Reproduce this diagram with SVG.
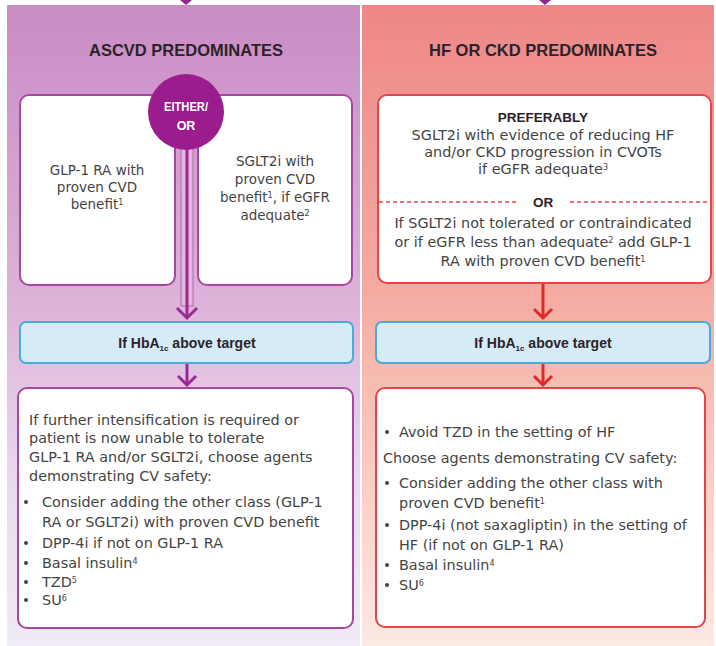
<svg xmlns="http://www.w3.org/2000/svg" width="716" height="646" viewBox="0 0 716 646">
<defs>
<linearGradient id="gL" x1="0" y1="0" x2="0" y2="1">
<stop offset="0" stop-color="#c98cc5"/>
<stop offset="0.45" stop-color="#dcb1d8"/>
<stop offset="0.75" stop-color="#eadaee"/>
<stop offset="1" stop-color="#f0ebf4"/>
</linearGradient>
<linearGradient id="gR" x1="0" y1="0" x2="0" y2="1">
<stop offset="0" stop-color="#ee8788"/>
<stop offset="0.45" stop-color="#f4aba2"/>
<stop offset="0.75" stop-color="#f9cfc4"/>
<stop offset="1" stop-color="#fce9e3"/>
</linearGradient>
<style>
.t{font-family:"DejaVu Sans",sans-serif;font-size:14.4px;fill:#444444}
.s{font-size:13.5px}
.c{text-anchor:middle}
.b{font-family:"Liberation Sans",Arial,sans-serif;font-weight:bold;fill:#2b2328}
.w{fill:#ffffff}
.title{font-size:16.5px;text-anchor:middle}
.hb{font-size:14px;text-anchor:middle}
.sup{font-size:8px}
.pbox{fill:#fff;stroke:#a6489f;stroke-width:2}
.rbox{fill:#fff;stroke:#e4454a;stroke-width:2}
.blue{fill:#d6ebf8;stroke:#4aaada;stroke-width:2}
.pl{stroke:#9a2a92;stroke-width:3;fill:none}
.rl{stroke:#e02a2a;stroke-width:3;fill:none}
.dash{stroke:#e4454a;stroke-width:1.5;stroke-dasharray:4 3}
.dot{fill:#444444}
</style>
</defs>
<rect x="0" y="0" width="716" height="646" fill="#ffffff"/>
<rect x="7" y="5" width="353" height="641" fill="url(#gL)"/>
<rect x="362" y="5" width="352" height="641" fill="url(#gR)"/>
<polygon points="180,0 192,0 186,5" fill="#8e2a8a"/>
<polygon points="539,0 551,0 545,5" fill="#8e2a8a"/>

<g id="title-left"><text class="b title" x="186" y="56">ASCVD PREDOMINATES</text></g>
<g id="title-right"><text class="b title" x="543" y="56">HF OR CKD PREDOMINATES</text></g>

<g id="box-glp1">
<rect class="pbox" x="20" y="95" width="155" height="190" rx="9"/>
<text class="t s c" x="97" y="175">GLP-1 RA with</text>
<text class="t s c" x="97" y="192">proven CVD</text>
<text class="t s c" x="97" y="209">benefit<tspan class="sup" baseline-shift="super">1</tspan></text>
</g>
<g id="box-sglt2">
<rect class="pbox" x="198" y="95" width="154" height="190" rx="9"/>
<text class="t s c" x="275" y="166">SGLT2i with</text>
<text class="t s c" x="275" y="184">proven CVD</text>
<text class="t s c" x="275" y="202">benefit<tspan class="sup" baseline-shift="super">1</tspan>, if eGFR</text>
<text class="t s c" x="275" y="220">adequate<tspan class="sup" baseline-shift="super">2</tspan></text>
</g>

<g id="connectors">
<rect x="181" y="148" width="12" height="158" fill="#e3b8de" stroke="#b862b1" stroke-width="1"/>
<line class="pl" x1="187" y1="148" x2="187" y2="318"/>
<path class="pl" d="M177,308 L187,318 L197,308"/>
<line class="pl" x1="187" y1="363" x2="187" y2="385"/>
<path class="pl" d="M178,376 L187,385 L196,376"/>
<line class="rl" x1="543" y1="283" x2="543" y2="318"/>
<path class="rl" d="M534,309 L543,318 L552,309"/>
<line class="rl" x1="543" y1="363" x2="543" y2="385"/>
<path class="rl" d="M534,376 L543,385 L552,376"/>
</g>

<g id="either-or">
<circle cx="186" cy="112" r="38" fill="#9b1d8d"/>
<text class="b w" x="186" y="111" text-anchor="middle" font-size="12.5" textLength="44" lengthAdjust="spacingAndGlyphs">EITHER/</text>
<text class="b w" x="186" y="130" text-anchor="middle" font-size="12.5">OR</text>
</g>

<g id="box-hf-ckd">
<rect class="rbox" x="378" y="95" width="333" height="188" rx="9"/>
<text class="b c" x="543" y="122" font-size="13.5">PREFERABLY</text>
<text class="t c" x="543" y="140">SGLT2i with evidence of reducing HF</text>
<text class="t c" x="543" y="157">and/or CKD progression in CVOTs</text>
<text class="t c" x="543" y="174">if eGFR adequate<tspan class="sup" baseline-shift="super">3</tspan></text>
<line class="dash" x1="379" y1="202" x2="518" y2="202"/>
<line class="dash" x1="570" y1="202" x2="710" y2="202"/>
<text class="b c" x="543" y="207" font-size="13.5">OR</text>
<text class="t c" x="543" y="228">If SGLT2i not tolerated or contraindicated</text>
<text class="t c" x="543" y="247">or if eGFR less than adequate<tspan class="sup" baseline-shift="super">2</tspan> add GLP-1</text>
<text class="t c" x="543" y="266">RA with proven CVD benefit<tspan class="sup" baseline-shift="super">1</tspan></text>
</g>

<g id="hba1c-left">
<rect class="blue" x="20" y="322" width="333" height="41" rx="6"/>
<text class="b hb" x="187" y="348">If HbA<tspan font-size="8" dy="3">1c</tspan><tspan dy="-3"> above target</tspan></text>
</g>
<g id="hba1c-right">
<rect class="blue" x="376" y="322" width="334" height="41" rx="6"/>
<text class="b hb" x="543" y="348">If HbA<tspan font-size="8" dy="3">1c</tspan><tspan dy="-3"> above target</tspan></text>
</g>

<g id="box-ascvd-next">
<rect class="pbox" x="18" y="388" width="335" height="240" rx="9"/>
<text class="t" x="29" y="425">If further intensification is required or</text>
<text class="t" x="29" y="443">patient is now unable to tolerate</text>
<text class="t" x="29" y="462">GLP-1 RA and/or SGLT2i, choose agents</text>
<text class="t" x="29" y="481">demonstrating CV safety:</text>
<circle class="dot" cx="26" cy="502" r="2"/>
<text class="t" x="42" y="507">Consider adding the other class (GLP-1</text>
<text class="t" x="42" y="527">RA or SGLT2i) with proven CVD benefit</text>
<circle class="dot" cx="26" cy="543" r="2"/>
<text class="t" x="42" y="548">DPP-4i if not on GLP-1 RA</text>
<circle class="dot" cx="26" cy="563" r="2"/>
<text class="t" x="42" y="568">Basal insulin<tspan class="sup" baseline-shift="super">4</tspan></text>
<circle class="dot" cx="26" cy="582" r="2"/>
<text class="t" x="42" y="587">TZD<tspan class="sup" baseline-shift="super">5</tspan></text>
<circle class="dot" cx="26" cy="600" r="2"/>
<text class="t" x="42" y="605">SU<tspan class="sup" baseline-shift="super">6</tspan></text>
</g>

<g id="box-hf-next">
<rect class="rbox" x="376" y="388" width="329" height="239" rx="9"/>
<circle class="dot" cx="387" cy="432" r="2"/>
<text class="t" x="399" y="437">Avoid TZD in the setting of HF</text>
<text class="t" x="383" y="463">Choose agents demonstrating CV safety:</text>
<circle class="dot" cx="387" cy="483" r="2"/>
<text class="t" x="399" y="488">Consider adding the other class with</text>
<text class="t" x="399" y="508">proven CVD benefit<tspan class="sup" baseline-shift="super">1</tspan></text>
<circle class="dot" cx="387" cy="525" r="2"/>
<text class="t" x="399" y="530">DPP-4i (not saxagliptin) in the setting of</text>
<text class="t" x="399" y="550">HF (if not on GLP-1 RA)</text>
<circle class="dot" cx="387" cy="565" r="2"/>
<text class="t" x="399" y="570">Basal insulin<tspan class="sup" baseline-shift="super">4</tspan></text>
<circle class="dot" cx="387" cy="585" r="2"/>
<text class="t" x="399" y="590">SU<tspan class="sup" baseline-shift="super">6</tspan></text>
</g>
</svg>
